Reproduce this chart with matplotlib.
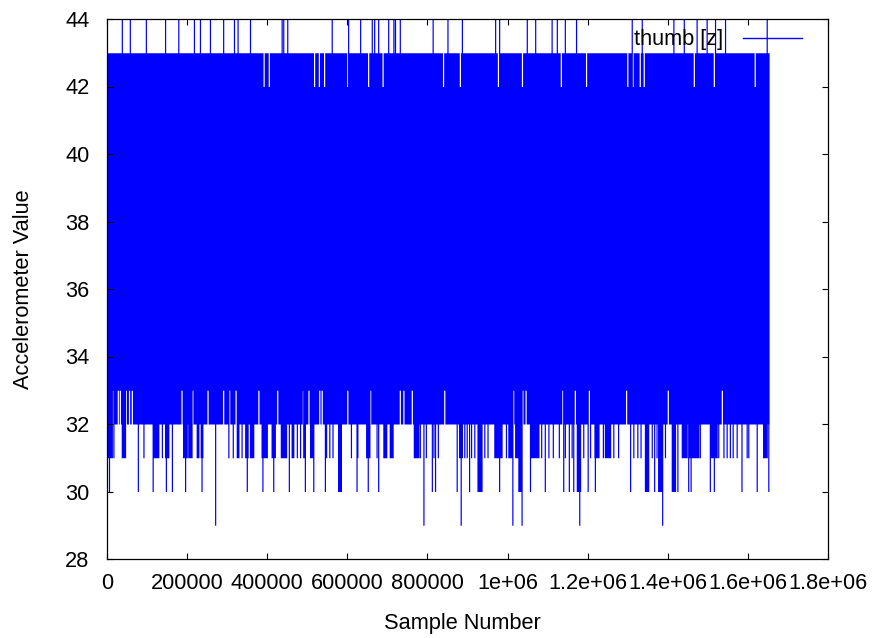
import numpy as np
import matplotlib
matplotlib.use("Agg")
import matplotlib.pyplot as plt
from matplotlib.lines import Line2D

# ---------------- data (sample numbers in thousands) ----------------
series_label = "thumb [z]"
last_sample_k = 1653
base_high = 43
base_low = 32

# columns whose maximum reaches 44
spike44_k = [37, 57, 97, 145, 178, 217, 232, 257, 290, 317, 326, 357, 436, 440, 450,
             561, 602, 632, 661, 667, 677, 702, 715, 719, 731, 813, 850, 886, 969, 979,
             1048, 1069, 1110, 1123, 1143, 1171, 1310, 1335, 1414, 1440, 1472, 1497,
             1518, 1543, 1647]
# columns whose maximum is only 42
top42_k = [391, 404, 517, 529, 542, 600, 652, 688, 839, 881, 976, 1036, 1133, 1196,
           1299, 1312, 1330, 1340, 1465, 1515, 1617]
# columns whose minimum is 33
floor33_k = [13, 27, 32, 47, 55, 62, 120, 145, 186, 213, 228, 251, 290, 305, 321, 378,
             390, 425, 489, 503, 530, 536, 600, 657, 731, 740, 761, 766, 842, 1014, 1037,
             1045, 1137, 1143, 1168, 1203, 1296, 1400, 1535]
# dips to 31
dip31_k = [16, 91, 137, 303, 314, 336, 474, 482, 547, 555, 563, 609, 625, 673, 781, 796,
           815, 826, 892, 898, 909, 917, 942, 950, 996, 1084, 1093, 1102, 1113, 1128,
           1143, 1160, 1189, 1206, 1238, 1264, 1276, 1314, 1324, 1332, 1360, 1372, 1393,
           1480, 1526, 1539, 1547, 1555, 1562, 1572, 1597, 1601]
dip31_spans_k = [(2, 12), (37, 45), (116, 128), (145, 153), (190, 199), (203, 211),
                 (224, 228), (234, 238), (324, 328), (345, 351), (357, 365), (386, 399),
                 (411, 419), (434, 447), (461, 465), (490, 494), (507, 515), (647, 655),
                 (690, 697), (706, 713), (766, 777), (879, 886), (967, 985), (1002, 1009),
                 (1019, 1025), (1056, 1077), (1217, 1227), (1243, 1256), (1435, 1447),
                 (1451, 1476), (1505, 1522), (1638, 1647)]
# dips to 30
dip30_k = [5, 77, 114, 147, 162, 195, 236, 349, 388, 415, 454, 494, 515, 544, 623, 651,
           677, 811, 819, 873, 904, 979, 1056, 1093, 1139, 1153, 1164, 1200, 1218, 1306,
           1366, 1424, 1451, 1457, 1505, 1515, 1584, 1622, 1651]
dip30_spans_k = [(577, 584), (925, 935), (1027, 1034), (1173, 1181), (1343, 1351),
                 (1376, 1385), (1410, 1418)]
# dips to 29
dip29_k = [270, 790, 883, 1012, 1035, 1179, 1386]

xticks = [0, 200000, 400000, 600000, 800000, 1000000, 1200000, 1400000, 1600000, 1800000]
xtick_labels = ["0", "200000", "400000", "600000", "800000", "1e+06", "1.2e+06",
                "1.4e+06", "1.6e+06", "1.8e+06"]
yticks = [28, 30, 32, 34, 36, 38, 40, 42, 44]
ytick_labels = ["28", "30", "32", "34", "36", "38", "40", "42", "44"]

# ---------------- envelope table built from the data ----------------
n = last_sample_k + 1
x = np.arange(n) * 1000.0
hi = np.full(n, float(base_high))
lo = np.full(n, float(base_low))


def span(a, b):
    return slice(max(a - 1, 0), min(b + 2, n))


for p in top42_k:
    hi[span(p, p)] = 42
for p in spike44_k:
    hi[span(p, p)] = 44
for p in floor33_k:
    lo[span(p, p)] = 33
for level, pts, spans in [(31, dip31_k, dip31_spans_k), (30, dip30_k, dip30_spans_k),
                          (29, dip29_k, [])]:
    for p in pts:
        s = span(p, p)
        lo[s] = np.minimum(lo[s], level)
    for a, b in spans:
        s = span(a, b)
        lo[s] = np.minimum(lo[s], level)

# ---------------- plot ----------------
plt.rcParams['font.family'] = ['Liberation Sans', 'DejaVu Sans']
fs = 15.7
fig = plt.figure(figsize=(8.75, 6.38), dpi=100)
ax = fig.add_axes([107 / 875, 1 - 559 / 638, 721 / 875, 540 / 638])

ax.fill_between(x, lo, hi, step='mid', color='#0000ff', lw=0)

ax.set_xlim(0, 1800000)
ax.set_ylim(28, 44)
ax.set_xticks(xticks)
ax.set_xticklabels(xtick_labels)
ax.set_yticks(yticks)
ax.set_yticklabels(ytick_labels)
ax.tick_params(direction='in', length=4.3, width=0.8, top=True, right=True,
               labelsize=fs, colors='black')
ax.tick_params(axis='y', pad=12.5)
ax.tick_params(axis='x', pad=10)
for sp in ax.spines.values():
    sp.set_linewidth(0.9)
    sp.set_color('black')

ax.set_xlabel("Sample Number", fontsize=fs)
ax.set_ylabel("Accelerometer Value", fontsize=fs)
ax.xaxis.set_label_coords(0.493, -(613 - 559) / 540)
ax.yaxis.set_label_coords(-(107 - 34) / 721, 0.5)

handle = Line2D([], [], color='#0000ff', lw=1)
ax.legend([handle], [series_label], loc='upper right', frameon=False,
          markerfirst=False, handlelength=2.7, handletextpad=0.9,
          borderpad=0.3, borderaxespad=0.0, bbox_to_anchor=(0.973, 0.993),
          fontsize=fs)

fig.savefig("out.png", dpi=100)
